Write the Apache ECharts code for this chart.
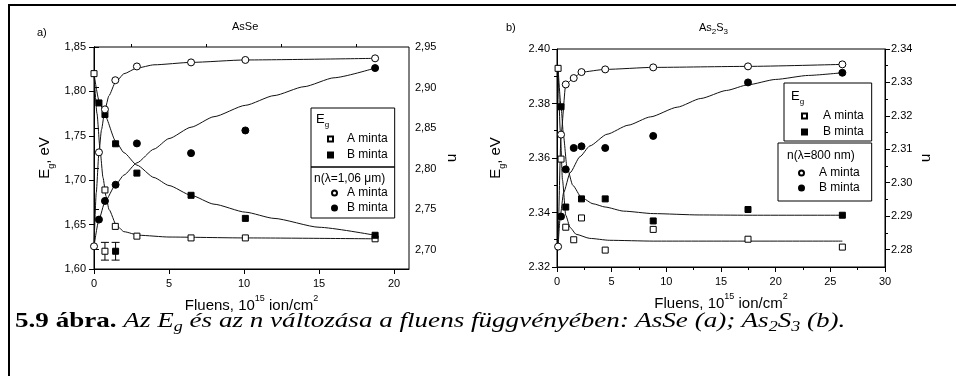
<!DOCTYPE html>
<html>
<head>
<meta charset="utf-8">
<script src="https://cdn.jsdelivr.net/npm/echarts@6/dist/echarts.min.js"></script>
<style>
  html, body { margin: 0; padding: 0; background: #fff; }
  #wrap { position: relative; width: 956px; height: 376px; overflow: hidden; }
  #chart { position: absolute; left: 0; top: 0; width: 956px; height: 376px; }
  #frame { position: absolute; left: 8px; top: 4px; width: 1200px; height: 600px;
           border-left: 2px solid #000; border-top: 2px solid #000; pointer-events: none; }
  #caption { position: absolute; left: 15px; top: 310px; white-space: nowrap;
             font: 21px "Liberation Serif", "Times New Roman", serif; line-height: 21px; color: #000;
             transform: scaleX(1.29); transform-origin: 0 0; }
  #caption sub { font-size: 14px; vertical-align: -4px; line-height: 0; }
</style>
</head>
<body>
<div id="wrap">
  <div id="chart"></div>
  <div id="frame"></div>
  <div id="caption"><b>5.9 ábra.</b> <i>Az E<sub>g</sub> és az n változása a fluens függvényében: AsSe (a); As<sub>2</sub>S<sub>3</sub> (b).</i></div>
</div>
<script>
(function () {
  // ---- a) AsSe : mért pontok ----
  const asseEgAx = [0, 0.73, 1.42, 2.86, 6.47, 10.09, 18.74];
  const asseEgA = [1.820, 1.689, 1.648, 1.637, 1.635, 1.635, 1.634];
  const asseEgBx = [0.33, 0.73, 1.44, 2.86, 6.47, 10.09, 18.74];
  const asseEgB = [1.787, 1.774, 1.741, 1.708, 1.683, 1.657, 1.638];
  const asseNAx = [0, 0.33, 0.73, 1.42, 2.86, 6.47, 10.09, 18.74];
  const asseNA = [2.704, 2.820, 2.873, 2.909, 2.926, 2.931, 2.934, 2.936];
  const asseNBx = [0.33, 0.73, 1.44, 2.86, 6.47, 10.09, 18.74];
  const asseNB = [2.737, 2.760, 2.780, 2.831, 2.819, 2.847, 2.924];
  // hibasáv példák
  const asseErrX = [0.73, 1.44];
  const asseErrY = [1.62, 1.62];
  const asseErr = [0.01, 0.01];
  // illesztett görbék (leolvasva)
  const asseFitEgAx = [0, 0.2, 0.4, 0.6, 0.8, 1.0, 1.5, 2, 3, 5, 10, 18.74];
  const asseFitEgA = [1.820, 1.775, 1.735, 1.703, 1.682, 1.667, 1.649, 1.642, 1.638, 1.636, 1.635, 1.634];
  const asseFitEgBx = [0, 0.33, 0.73, 1.44, 2, 2.86, 4, 5, 6.47, 8, 10.09, 12, 15, 18.74];
  const asseFitEgB = [1.820, 1.790, 1.773, 1.744, 1.731, 1.717, 1.703, 1.694, 1.683, 1.673, 1.664, 1.657, 1.647, 1.638];
  const asseFitNAx = [0, 0.15, 0.33, 0.5, 0.73, 1.0, 1.42, 2.0, 2.86, 4.0, 6.47, 10.09, 18.74];
  const asseFitNA = [2.704, 2.770, 2.820, 2.848, 2.873, 2.890, 2.906, 2.917, 2.924, 2.928, 2.931, 2.934, 2.936];
  const asseFitNBx = [0, 0.33, 0.73, 1.44, 2, 2.86, 4, 5, 6.47, 8, 10.09, 12, 14, 16, 18.74];
  const asseFitNB = [2.704, 2.737, 2.759, 2.780, 2.792, 2.807, 2.824, 2.837, 2.851, 2.864, 2.878, 2.890, 2.901, 2.912, 2.924];
  // tengely feliratok
  const asseXTicks = [0, 5, 10, 15, 20];
  const asseXMinor = [2.5, 7.5, 12.5, 17.5];
  const asseNTicks = [2.70, 2.75, 2.80, 2.85, 2.90, 2.95];

  // ---- b) As2S3 : mért pontok ----
  const as2s3EgAx = [0.1, 0.37, 0.8, 1.53, 2.24, 4.41, 8.8, 17.47, 26.1];
  const as2s3EgA = [2.3929, 2.3596, 2.3346, 2.3300, 2.3380, 2.3262, 2.3338, 2.3302, 2.3273];
  const as2s3EgBx = [0.37, 0.8, 2.24, 4.41, 8.8, 17.47, 26.1];
  const as2s3EgB = [2.3788, 2.3420, 2.3450, 2.3450, 2.3369, 2.3411, 2.3390];
  const as2s3NAx = [0.1, 0.37, 0.8, 1.53, 2.24, 4.41, 8.8, 17.47, 26.1];
  const as2s3NA = [2.2809, 2.3144, 2.3294, 2.3313, 2.3331, 2.3339, 2.3345, 2.3348, 2.3354];
  const as2s3NBx = [0.37, 0.8, 1.53, 2.24, 4.41, 8.8, 17.47, 26.1];
  const as2s3NB = [2.2899, 2.3040, 2.3104, 2.3109, 2.3104, 2.3140, 2.3300, 2.3329];
  // illesztett görbék (leolvasva)
  const as2s3FitEgAx = [0.1, 0.3, 0.5, 0.8, 1.2, 1.75, 3, 4.8, 8.8, 26.1];
  const as2s3FitEgA = [2.3929, 2.3700, 2.3520, 2.3390, 2.3345, 2.3320, 2.3305, 2.3298, 2.3295, 2.3295];
  const as2s3FitEgBx = [0.1, 0.37, 0.6, 0.9, 1.44, 2.24, 3.3, 4.41, 6.1, 8.8, 13, 17.47, 26.1];
  const as2s3FitEgB = [2.3929, 2.3788, 2.3680, 2.3570, 2.3500, 2.3455, 2.3432, 2.3420, 2.3405, 2.3396, 2.3391, 2.3390, 2.3390];
  const as2s3FitNAx = [0.1, 0.37, 0.8, 1.53, 2.24, 4.41, 8.8, 17.47, 26.1];
  const as2s3FitNA = [2.2809, 2.3144, 2.3294, 2.3313, 2.3331, 2.3339, 2.3345, 2.3348, 2.3354];
  const as2s3FitNBx = [0.1, 0.3, 0.6, 1.2, 2.1, 3, 4.57, 6.5, 8.55, 11, 13.15, 15.5, 17.47, 20, 23, 26.1];
  const as2s3FitNB = [2.2809, 2.2900, 2.2970, 2.3030, 2.3078, 2.3110, 2.3145, 2.3172, 2.3197, 2.3226, 2.3252, 2.3276, 2.3293, 2.3309, 2.3321, 2.3329];
  // tengely feliratok
  const as2s3NTicks = [2.28, 2.29, 2.30, 2.31, 2.32, 2.33, 2.34];
  const as2s3NMinor = [2.285, 2.295, 2.305, 2.315, 2.325, 2.335];

  const FONT = '"Liberation Sans", Arial, sans-serif';
  const BLACK = '#000';

  const zip = (xs, ys) => xs.map((x, i) => [x, ys[i]]);
  const comma = (v) => v.toFixed(2).replace('.', ',');
  const dot = (v) => v.toFixed(2);

  const myChart = echarts.init(document.getElementById('chart'));

  // felső index / alsó index rich stílusok
  const nameRich = {
    m: { fontSize: 15, lineHeight: 15, padding: [4, 0, 0, 0], verticalAlign: 'top', fontFamily: FONT, color: BLACK },
    s: { fontSize: 9, lineHeight: 9, verticalAlign: 'top', fontFamily: FONT, color: BLACK },
    e: { fontSize: 15, lineHeight: 15, verticalAlign: 'top', fontFamily: FONT, color: BLACK },
    g: { fontSize: 9, lineHeight: 9, padding: [10, 0, 0, 0], verticalAlign: 'top', fontFamily: FONT, color: BLACK }
  };
  const xName = '{m|Fluens, 10}{s|15}{m| ion/cm}{s|2}';
  const egName = '{e|E}{g|g}{e|, eV}';

  const tickStyle = { lineStyle: { color: BLACK, width: 1 }, length: 5 };
  const lineStyle = { show: true, lineStyle: { color: BLACK, width: 1 } };
  const labelStyle = { color: BLACK, fontSize: 11, fontFamily: FONT };

  function fit(name, xs, ys, xi, yi) {
    return {
      name, type: 'line', xAxisIndex: xi, yAxisIndex: yi,
      data: zip(xs, ys), showSymbol: false, symbol: 'none',
      smooth: 0.2, smoothMonotone: 'x',
      lineStyle: { color: '#111', width: 1 }, z: 2, silent: true
    };
  }
  function pts(name, xs, ys, xi, yi, symbol, filled, size) {
    return {
      name, type: 'scatter', xAxisIndex: xi, yAxisIndex: yi,
      data: zip(xs, ys), symbol, symbolSize: size,
      itemStyle: { color: filled ? BLACK : '#fff', borderColor: BLACK, borderWidth: 1, opacity: 1 },
      z: 5, silent: true
    };
  }
  function errRender(params, api) {
    const x = api.value(0), y = api.value(1), e = api.value(2);
    const p1 = api.coord([x, y + e]);
    const p2 = api.coord([x, y - e]);
    const h = 4;
    const style = { stroke: BLACK, lineWidth: 1 };
    return {
      type: 'group',
      children: [
        { type: 'line', shape: { x1: p1[0], y1: p1[1], x2: p2[0], y2: p2[1] }, style },
        { type: 'line', shape: { x1: p1[0] - h, y1: p1[1], x2: p1[0] + h, y2: p1[1] }, style },
        { type: 'line', shape: { x1: p2[0] - h, y1: p2[1], x2: p2[0] + h, y2: p2[1] }, style }
      ]
    };
  }
  function legendBox(left, top, padding, gap, names, icon, textPad) {
    return {
      left, top, padding, itemGap: gap, orient: 'vertical',
      itemWidth: 5, itemHeight: 5, selectedMode: false,
      borderColor: BLACK, borderWidth: 1, borderRadius: 0,
      data: names.map((n) => ({ name: n, icon })),
      formatter: (n) => (n.endsWith('A') ? 'A minta' : 'B minta'),
      textStyle: { color: BLACK, fontSize: 12, lineHeight: 12, fontFamily: FONT, padding: [0, 0, 0, textPad] }
    };
  }
  function subText(left, top, main, sub, size, subSize, drop) {
    return {
      type: 'text', left, top,
      style: {
        text: '{m|' + main + '}{s|' + sub + '}', fill: BLACK,
        rich: {
          m: { fontSize: size, lineHeight: size, verticalAlign: 'top', fontFamily: FONT, fill: BLACK },
          s: { fontSize: subSize, lineHeight: subSize, padding: [drop, 0, 0, 0], verticalAlign: 'top', fontFamily: FONT, fill: BLACK }
        }
      }
    };
  }

  const option = {
    animation: false,
    backgroundColor: '#fff',
    textStyle: { fontFamily: FONT },
    grid: [
      { left: 94, top: 47, width: 315, height: 222, show: true, borderColor: BLACK, borderWidth: 1 },
      { left: 557, top: 49, width: 328, height: 218, show: true, borderColor: BLACK, borderWidth: 1 }
    ],
    xAxis: [
      {
        gridIndex: 0, type: 'value', min: 0, max: 21,
        axisLine: lineStyle, splitLine: { show: false },
        axisTick: Object.assign({ customValues: asseXTicks }, tickStyle),
        axisLabel: Object.assign({ customValues: asseXTicks, margin: 9 }, labelStyle),
        name: xName, nameLocation: 'middle', nameGap: 24, nameTextStyle: { rich: nameRich }
      },
      {
        gridIndex: 0, type: 'value', min: 0, max: 21,
        axisLine: { show: false }, splitLine: { show: false }, axisLabel: { show: false },
        axisTick: { customValues: asseXMinor, length: 3, lineStyle: { color: BLACK } }
      },
      {
        gridIndex: 1, type: 'value', min: 0, max: 30, interval: 5,
        axisLine: lineStyle, splitLine: { show: false },
        axisTick: tickStyle,
        minorTick: { show: true, splitNumber: 2, length: 3, lineStyle: { color: BLACK } },
        axisLabel: Object.assign({ margin: 9 }, labelStyle),
        name: xName, nameLocation: 'middle', nameGap: 24, nameTextStyle: { rich: nameRich }
      }
    ],
    yAxis: [
      {
        gridIndex: 0, type: 'value', min: 1.60, max: 1.85, interval: 0.05,
        axisLine: lineStyle, splitLine: { show: false }, axisTick: tickStyle,
        axisLabel: Object.assign({ formatter: comma, margin: 8 }, labelStyle),
        name: egName, nameLocation: 'middle', nameRotate: 90, nameGap: 42, nameTextStyle: { rich: nameRich }
      },
      {
        gridIndex: 0, type: 'value', position: 'right', min: 2.676, max: 2.95,
        axisLine: lineStyle, splitLine: { show: false },
        axisTick: Object.assign({ customValues: asseNTicks }, tickStyle),
        axisLabel: Object.assign({ customValues: asseNTicks, formatter: comma, margin: 6 }, labelStyle),
        name: 'n', nameLocation: 'middle', nameRotate: -90, nameGap: 36,
        nameTextStyle: { fontSize: 15, color: BLACK, fontFamily: FONT }
      },
      {
        gridIndex: 1, type: 'value', min: 2.32, max: 2.40, interval: 0.02,
        axisLine: lineStyle, splitLine: { show: false }, axisTick: tickStyle,
        minorTick: { show: true, splitNumber: 2, length: 3, lineStyle: { color: BLACK } },
        axisLabel: Object.assign({ formatter: dot, margin: 7 }, labelStyle),
        name: egName, nameLocation: 'middle', nameRotate: 90, nameGap: 54, nameTextStyle: { rich: nameRich }
      },
      {
        gridIndex: 1, type: 'value', position: 'right', min: 2.2748, max: 2.34,
        axisLine: lineStyle, splitLine: { show: false },
        axisTick: Object.assign({ customValues: as2s3NTicks }, tickStyle),
        axisLabel: Object.assign({ customValues: as2s3NTicks, formatter: dot, margin: 6 }, labelStyle),
        name: 'n', nameLocation: 'middle', nameRotate: -90, nameGap: 34,
        nameTextStyle: { fontSize: 15, color: BLACK, fontFamily: FONT }
      },
      {
        gridIndex: 1, type: 'value', position: 'right', min: 2.2748, max: 2.34,
        axisLine: { show: false }, splitLine: { show: false }, axisLabel: { show: false },
        axisTick: { customValues: as2s3NMinor, length: 3, lineStyle: { color: BLACK } }
      }
    ],
    legend: [
      legendBox(311, 108, [25, 7, 6, 16], 4, ['aEgA', 'aEgB'], 'rect', 9),
      legendBox(311, 167, [20, 7, 4, 20], 3, ['anA', 'anB'], 'circle', 5),
      legendBox(784, 83, [27, 8, 3, 17], 4, ['bEgA', 'bEgB'], 'rect', 11),
      legendBox(778, 143, [24, 12, 7, 20], 3, ['bnA', 'bnB'], 'circle', 10)
    ],
    graphic: [
      { type: 'text', left: 37, top: 27, style: { text: 'a)', fontSize: 11, fontFamily: FONT, fill: BLACK } },
      { type: 'text', left: 232, top: 21, style: { text: 'AsSe', fontSize: 11, fontFamily: FONT, fill: BLACK } },
      { type: 'text', left: 506, top: 22, style: { text: 'b)', fontSize: 11, fontFamily: FONT, fill: BLACK } },
      {
        type: 'text', left: 699, top: 22,
        style: {
          text: '{m|As}{s|2}{m|S}{s|3}', fill: BLACK,
          rich: {
            m: { fontSize: 11, lineHeight: 11, verticalAlign: 'top', fontFamily: FONT, fill: BLACK },
            s: { fontSize: 8, lineHeight: 8, padding: [6, 0, 0, 0], verticalAlign: 'top', fontFamily: FONT, fill: BLACK }
          }
        }
      },
      subText(316, 113, 'E', 'g', 13, 8, 8),
      { type: 'text', left: 314, top: 173, style: { text: 'n(λ=1,06 μm)', fontSize: 12, fontFamily: FONT, fill: BLACK } },
      subText(791, 90, 'E', 'g', 13, 8, 8),
      { type: 'text', left: 787, top: 150, style: { text: 'n(λ=800 nm)', fontSize: 12, fontFamily: FONT, fill: BLACK } }
    ],
    series: [
      // a) AsSe
      fit('aFitEgA', asseFitEgAx, asseFitEgA, 0, 0),
      fit('aFitEgB', asseFitEgBx, asseFitEgB, 0, 0),
      fit('aFitnA', asseFitNAx, asseFitNA, 0, 1),
      fit('aFitnB', asseFitNBx, asseFitNB, 0, 1),
      pts('aEgA', asseEgAx, asseEgA, 0, 0, 'rect', false, 6),
      pts('aEgB', asseEgBx, asseEgB, 0, 0, 'rect', true, 6),
      pts('anA', asseNAx, asseNA, 0, 1, 'circle', false, 7),
      pts('anB', asseNBx, asseNB, 0, 1, 'circle', true, 7),
      {
        name: 'aErr', type: 'custom', xAxisIndex: 0, yAxisIndex: 0,
        renderItem: errRender, encode: { x: 0, y: 1 }, z: 3, silent: true,
        data: asseErrX.map((x, i) => [x, asseErrY[i], asseErr[i]])
      },
      pts('aErrPtA', asseErrX.slice(0, 1), asseErrY.slice(0, 1), 0, 0, 'rect', false, 6),
      pts('aErrPtB', asseErrX.slice(1), asseErrY.slice(1), 0, 0, 'rect', true, 6),
      // b) As2S3
      fit('bFitEgA', as2s3FitEgAx, as2s3FitEgA, 2, 2),
      fit('bFitEgB', as2s3FitEgBx, as2s3FitEgB, 2, 2),
      fit('bFitnA', as2s3FitNAx, as2s3FitNA, 2, 3),
      fit('bFitnB', as2s3FitNBx, as2s3FitNB, 2, 3),
      pts('bEgA', as2s3EgAx, as2s3EgA, 2, 2, 'rect', false, 6),
      pts('bEgB', as2s3EgBx, as2s3EgB, 2, 2, 'rect', true, 6),
      pts('bnA', as2s3NAx, as2s3NA, 2, 3, 'circle', false, 7),
      pts('bnB', as2s3NBx, as2s3NB, 2, 3, 'circle', true, 7)
    ]
  };
  myChart.setOption(option);
})();
</script>
</body>
</html>
